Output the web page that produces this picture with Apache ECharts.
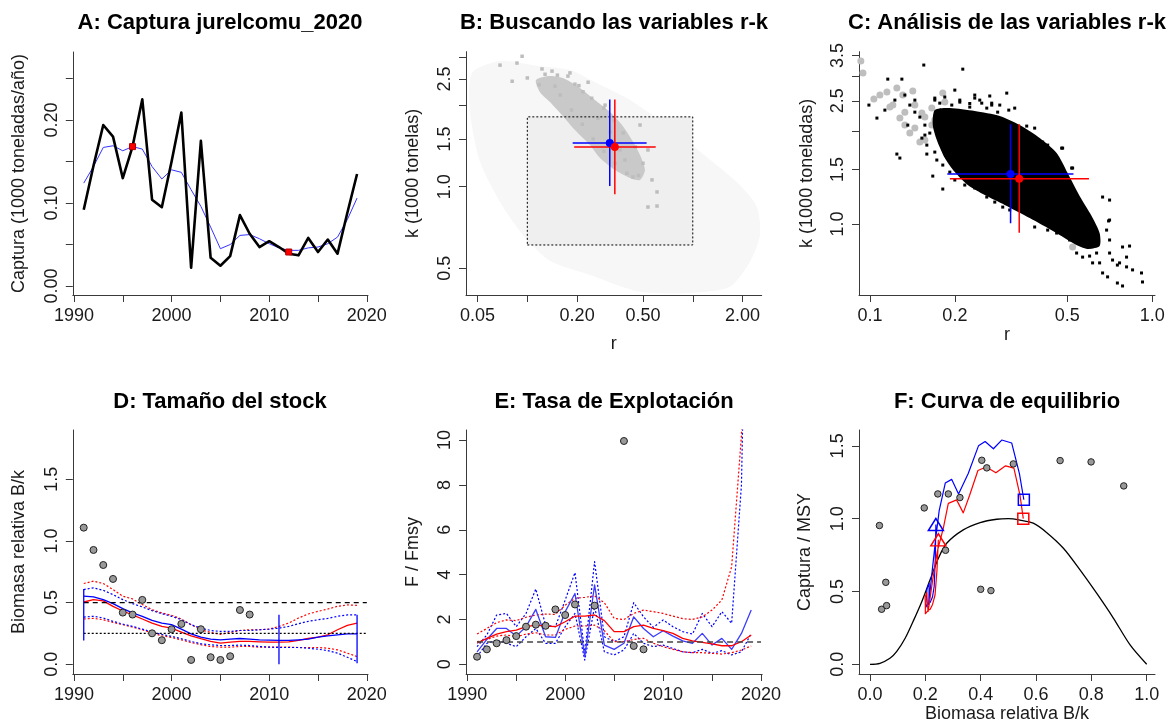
<!DOCTYPE html>
<html><head><meta charset="utf-8">
<script src="https://cdn.jsdelivr.net/npm/echarts@6/dist/echarts.min.js"></script>
<style>html,body{margin:0;padding:0;background:#fff}#c{width:1172px;height:724px}</style>
</head><body><div id="c"></div>
<script>
// ---------- DATA ----------
const years = [1991,1992,1993,1994,1995,1996,1997,1998,1999,2000,2001,2002,2003,2004,2005,2006,2007,2008,2009,2010,2011,2012,2013,2014,2015,2016,2017,2018,2019];
// A: catch and smoothed catch
const catchA = [0.092,0.145,0.194,0.180,0.130,0.168,0.225,0.104,0.095,0.150,0.209,0.022,0.175,0.034,0.0245,0.036,0.0855,0.063,0.047,0.054,0.047,0.039,0.037,0.058,0.041,0.056,0.039,0.088,0.135];
const smoothA = [0.124,0.144,0.167,0.169,0.163,0.168,0.165,0.144,0.129,0.140,0.137,0.116,0.096,0.071,0.045,0.050,0.061,0.062,0.057,0.051,0.046,0.043,0.043,0.046,0.047,0.051,0.059,0.080,0.106];
const markYearsA = [1996,2012];
const markValsA = [0.168,0.041];
// B: r-k clouds
const bCloudR = [0.0464,0.0684,0.1082,0.181,0.239,0.417,0.759,1.218,1.928,2.442,2.547,2.216,1.678,0.962,0.480,0.239,0.137,0.0941,0.0684,0.0518,0.0451];
const bCloudK = [2.63,2.91,2.81,2.70,2.48,2.09,1.62,1.285,1.015,0.841,0.663,0.528,0.427,0.405,0.409,0.472,0.532,0.663,0.878,1.233,1.88];
const priorR = [0.1,1.0];
const priorK = [0.609,1.81];
const bBandR = [0.1128,0.1372,0.169,0.2082,0.2565,0.316,0.3734,0.429,0.480,0.514,0.480,0.417,0.339,0.275,0.239,0.194,0.162,0.137,0.119];
const bBandK = [2.476,2.56,2.50,2.314,2.089,1.887,1.689,1.487,1.309,1.152,1.059,1.077,1.152,1.276,1.425,1.619,1.839,2.054,2.237];
const bDarkR = [0.0684,0.0866,0.093,0.081,0.1227,0.141,0.181,0.233,0.1,0.128,0.217,0.295,0.480,0.536,0.567,0.608,0.536,0.608,0.435,0.389,0.363,0.316,0.2675,0.158,0.194,0.147,0.118,0.152,0.176,0.205,0.245,0.29,0.335,0.38,0.45,0.50,0.47,0.40,0.34,0.29,0.25,0.215,0.185];
const bDarkK = [2.81,2.86,3.03,2.45,2.72,2.67,2.63,2.43,2.52,2.60,2.24,2.0,1.689,1.366,1.059,0.956,0.841,0.848,1.086,1.254,1.366,1.59,1.79,2.18,2.39,2.35,2.38,2.58,2.56,2.36,2.12,1.95,1.76,1.58,1.40,1.22,1.10,1.12,1.22,1.35,1.50,1.70,1.92];
// r-k estimates: [low, median, high]
const blueR = [0.188,0.315,0.526];
const blueK = [1.005,1.45,2.10];
const redR = [0.192,0.338,0.597];
const redK = [0.938,1.40,2.10];
// C: viable r-k pairs
const cCoreR = [0.1698,0.1919,0.2352,0.2884,0.3394,0.3994,0.4587,0.5016,0.5532,0.61,0.6511,0.6511,0.5904,0.531,0.4513,0.3681,0.3004,0.2552,0.2222,0.1999,0.1842,0.1726,0.167];
const cCoreK = [2.332,2.367,2.315,2.231,2.086,1.894,1.694,1.460,1.231,1.061,0.935,0.849,0.831,0.862,0.942,1.045,1.152,1.240,1.336,1.471,1.633,1.866,2.086];
const cGreyR = [0.0929,0.0945,0.1033,0.1149,0.1246,0.1419,0.1812,0.1177,0.1277,0.1385,0.1503,0.133,0.1528,0.1657,0.1842,0.1999,0.1657,0.1797,0.1999,0.3394,0.5099,0.5225,0.3053,0.1085,0.1206,0.1308,0.1443,0.1566,0.1698,0.1885,0.2082,0.133,0.1443,0.1566];
const cGreyK = [3.357,3.07,2.531,2.666,2.747,2.686,2.646,2.385,2.198,1.966,1.839,2.297,2.281,2.367,2.475,2.297,2.086,1.981,2.04,1.937,1.287,0.843,1.177,2.608,2.421,2.608,2.421,2.214,2.165,2.198,2.165,2.086,2.04,1.866];
const cBlackR = [0.1552,0.2133,0.1157,0.1298,0.0992,0.1059,0.1246,0.1277,0.1591,0.167,0.1812,0.1999,0.2352,0.2701,0.3053,0.3104,0.3258,0.3593,0.3834,0.4816,0.5225,0.6672,0.7063,0.7005,0.8313,0.8519,0.9165,0.924,0.7851,0.7527,0.6949,0.6672,0.6001,0.6511,0.7662,0.8112,0.7237,0.6353,0.7063,0.6893,0.7063,0.7851,0.8112,0.7063,0.7527,0.6149,0.5668,0.5398,0.4777,0.5183,0.4263,0.4092,0.3772,0.3834,0.4263,0.4587,0.5099,0.6001,0.3128,0.2955,0.2769,0.2204,0.2594,0.245,0.2658,0.2884,0.2258,0.2082,0.1842,0.113,0.1226,0.133,0.1443,0.1362,0.1566,0.1698,0.1698,0.1768,0.195,0.2082,0.2258,0.249,0.2594,0.2835,0.2352,0.2701,0.1385,0.1443,0.1503,0.1566,0.163,0.1528,0.1591,0.1698,0.1726,0.1812,0.1919,0.1999,0.2168,0.2352];
const cBlackK = [3.26,3.162,2.936,2.936,2.421,2.198,1.682,1.633,1.682,1.428,1.297,2.706,2.55,2.421,2.646,2.332,2.367,2.071,2.04,1.758,1.516,1.222,1.195,1.023,0.849,0.711,0.695,0.650,0.631,0.645,0.675,0.695,0.788,0.749,0.749,0.727,0.765,0.806,1.030,0.956,0.888,0.843,0.782,0.806,0.737,0.749,0.782,0.806,1.758,1.516,1.798,1.839,1.839,0.978,0.956,0.935,0.888,0.843,1.110,1.134,1.177,1.418,1.222,2.512,2.59,2.421,2.45,2.512,2.57,2.332,2.512,2.608,2.512,2.086,1.937,2.512,2.55,2.456,2.421,2.475,2.385,2.456,2.367,2.297,2.608,2.456,2.421,2.297,2.214,2.086,1.966,1.894,1.798,1.707,1.609,1.550,1.471,1.387,1.336,1.307];
// D: relative biomass
const dRed = [0.505,0.524,0.514,0.47,0.432,0.40,0.367,0.334,0.307,0.293,0.261,0.231,0.207,0.185,0.171,0.179,0.185,0.185,0.182,0.179,0.179,0.182,0.193,0.209,0.22,0.239,0.28,0.315,0.334];
const dBlue = [0.552,0.546,0.524,0.492,0.451,0.416,0.389,0.356,0.334,0.321,0.285,0.247,0.22,0.204,0.198,0.204,0.209,0.204,0.198,0.196,0.193,0.193,0.198,0.204,0.22,0.231,0.239,0.247,0.247];
const dRedHi = [0.655,0.674,0.655,0.606,0.552,0.53,0.484,0.443,0.416,0.397,0.367,0.321,0.28,0.258,0.242,0.258,0.274,0.28,0.28,0.285,0.307,0.334,0.375,0.408,0.429,0.448,0.47,0.481,0.478];
const dRedLo = [0.367,0.372,0.361,0.34,0.321,0.302,0.28,0.253,0.231,0.217,0.198,0.177,0.158,0.144,0.139,0.139,0.144,0.144,0.139,0.139,0.139,0.139,0.136,0.136,0.136,0.13,0.117,0.09,0.0625];
const dBlueHi = [0.606,0.62,0.60,0.565,0.524,0.492,0.465,0.435,0.41,0.389,0.361,0.321,0.293,0.274,0.266,0.266,0.274,0.274,0.28,0.285,0.293,0.307,0.329,0.348,0.361,0.372,0.389,0.40,0.40];
const dBlueLo = [0.383,0.389,0.375,0.348,0.326,0.307,0.285,0.261,0.242,0.226,0.207,0.185,0.166,0.158,0.152,0.152,0.155,0.152,0.144,0.139,0.136,0.136,0.136,0.13,0.122,0.111,0.09,0.057,0.022];
const dPtYears = [1991,1992,1993,1994,1995,1996,1997,1998,1999,2000,2001,2002,2003,2004,2005,2006,2007,2008];
const dPtVals = [1.108,0.927,0.805,0.692,0.419,0.403,0.522,0.251,0.195,0.284,0.327,0.035,0.284,0.057,0.035,0.065,0.44,0.403];
const dBarYears = [1991,2011,2019];
const dBarLo = [0.193,0.0,0.008];
const dBarHi = [0.611,0.402,0.402];
// E: F/Fmsy
const eRed = [0.94,1.16,1.35,1.46,1.53,1.68,1.75,1.71,1.68,1.9,2.15,2.15,2.2,1.95,1.46,1.46,1.68,1.75,1.6,1.5,1.38,1.16,1.05,0.98,0.91,0.83,0.83,1.01,1.31];
const eBlue = [0.56,1.11,1.6,1.6,1.26,1.68,2.45,1.23,1.2,2.35,3.16,0.34,3.54,0.86,0.67,0.94,2.12,1.6,1.23,1.5,1.26,1.05,0.94,1.38,0.86,1.16,0.67,1.38,2.42];
const eRedHi = [1.35,1.6,1.86,1.98,1.95,2.1,2.2,2.24,2.23,2.64,2.94,2.99,3.05,2.75,2.05,2.0,2.27,2.42,2.35,2.27,2.15,2.04,2.0,2.12,2.42,2.87,4.35,10.2,30];
const eRedLo = [1.01,1.11,1.26,1.31,1.23,1.35,1.41,1.31,1.31,1.56,1.71,1.71,1.75,1.5,1.01,1.01,1.11,1.16,0.94,0.79,0.67,0.56,0.52,0.52,0.49,0.46,0.52,0.64,0.82];
const eBlueHi = [0.79,1.31,2.2,2.27,1.68,2.27,3.36,1.75,1.68,2.87,4.09,0.5,4.58,1.23,1.01,1.23,2.75,2.12,1.65,1.98,1.68,1.46,1.35,2.27,1.68,2.35,1.83,8.0,30];
const eBlueLo = [0.34,0.94,1.08,0.94,0.79,1.23,1.6,0.94,0.94,1.68,2.27,0.19,2.57,0.56,0.42,0.64,1.38,0.94,0.79,0.86,0.71,0.56,0.52,0.67,0.49,0.61,0.42,0.56,1.38];
const ePtYears = [1991,1992,1993,1994,1995,1996,1997,1998,1999,2000,2001,2003,2006,2007,2008];
const ePtVals = [0.34,0.67,0.94,1.08,1.26,1.68,1.77,1.72,2.45,2.2,2.67,2.62,9.96,0.82,0.67];
// F: equilibrium curve
const fCurveX = [0,0.036,0.072,0.096,0.127,0.157,0.187,0.217,0.247,0.277,0.337,0.398,0.458,0.5,0.542,0.59,0.639,0.699,0.759,0.819,0.88,0.94,1.0];
const fCurveY = [0,0.007,0.041,0.087,0.179,0.30,0.43,0.58,0.728,0.831,0.923,0.973,0.996,1.0,0.99,0.969,0.904,0.797,0.648,0.488,0.316,0.133,0.0];
const fBlueX = [0.556,0.54,0.512,0.476,0.446,0.416,0.392,0.355,0.32,0.295,0.272,0.25,0.238,0.225,0.212,0.213,0.214,0.21,0.206,0.204,0.202,0.201,0.203,0.21,0.218,0.226,0.232,0.236,0.238];
const fBlueY = [1.13,1.31,1.52,1.54,1.48,1.53,1.50,1.31,1.17,1.27,1.245,1.055,0.873,0.645,0.41,0.455,0.555,0.564,0.518,0.464,0.418,0.391,0.391,0.418,0.427,0.464,0.536,0.727,0.96];
const fRedX = [0.554,0.542,0.52,0.49,0.455,0.42,0.39,0.36,0.337,0.313,0.283,0.265,0.243,0.226,0.21,0.208,0.205,0.2,0.199,0.2,0.2,0.2,0.204,0.21,0.218,0.226,0.235,0.242,0.247];
const fRedY = [1.0,1.161,1.347,1.363,1.315,1.355,1.331,1.161,1.04,1.129,1.105,0.935,0.774,0.573,0.363,0.403,0.492,0.5,0.46,0.411,0.371,0.347,0.347,0.371,0.379,0.411,0.476,0.645,0.855];
const fPtX = [0.034,0.042,0.060,0.057,0.196,0.245,0.283,0.325,0.273,0.404,0.422,0.400,0.437,0.518,0.687,0.799,0.917];
const fPtY = [0.953,0.378,0.403,0.563,1.074,1.170,1.170,1.145,0.783,1.401,1.349,0.515,0.506,1.376,1.399,1.39,1.225];
// tick values
const yearTicks = [1990,1995,2000,2005,2010,2015,2020];
const yearLabels = [1990,2000,2010,2020];

// ---------- HELPERS ----------
const FONT = '"Liberation Sans", Arial, Helvetica, sans-serif';
const TXT = '#1a1a1a';
const AX = '#3a3a3a';
const zip = (a, b) => a.map((v, i) => [v, b[i]]);

function axis(dim, gi, o) {
  const isY = dim === 'y';
  return {
    gridIndex: gi, type: o.log ? 'log' : 'value', logBase: 10,
    min: o.min, max: o.max, position: isY ? 'left' : 'bottom',
    name: o.name || '', nameLocation: 'middle', nameGap: o.gap || 0,
    nameTextStyle: { color: TXT, fontSize: 18, fontFamily: FONT },
    axisLine: { show: true, onZero: false, lineStyle: { color: AX, width: 1 } },
    axisTick: { show: true, length: 7, inside: false, lineStyle: { color: AX, width: 1 }, customValues: o.ticks },
    axisLabel: { show: true, color: TXT, fontSize: 18, fontFamily: FONT, margin: 12, rotate: isY ? 90 : 0,
      customValues: o.labels, formatter: o.fmt, showMinLabel: true, showMaxLabel: true },
    splitLine: { show: false }, splitArea: { show: false }, minorTick: { show: false }
  };
}
const fx = d => (v => Number(v).toFixed(d));

function line(xi, data, color, width, type, z) {
  return { type: 'line', xAxisIndex: xi, yAxisIndex: xi, data: data, symbol: 'none', silent: true,
    lineStyle: { color: color, width: width, type: type || 'solid', join: 'round' }, z: z || 3, clip: true, animation: false };
}
function poly(xi, r, k, fill, z) {
  const pts = zip(r, k);
  return { type: 'custom', xAxisIndex: xi, yAxisIndex: xi, data: pts, silent: true, z: z || 1, clip: true,
    renderItem: function (params, api) {
      if (params.dataIndex !== 0) return null;
      return { type: 'polygon', shape: { points: pts.map(p => api.coord(p)), smooth: 0.25 }, style: { fill: fill } };
    } };
}
function rectPoly(xi, r, k, fill, z) {
  const pts = [[r[0], k[0]], [r[1], k[0]], [r[1], k[1]], [r[0], k[1]]];
  return { type: 'custom', xAxisIndex: xi, yAxisIndex: xi, data: pts, silent: true, z: z || 1, clip: true,
    renderItem: function (params, api) {
      if (params.dataIndex !== 0) return null;
      return { type: 'polygon', shape: { points: pts.map(p => api.coord(p)) }, style: { fill: fill } };
    } };
}
function scatter(xi, data, symbol, size, color, border, z) {
  return { type: 'scatter', xAxisIndex: xi, yAxisIndex: xi, data: data, symbol: symbol, symbolSize: size, silent: true,
    itemStyle: { color: color, borderColor: border ? border[0] : undefined, borderWidth: border ? border[1] : 0, opacity: 1 }, z: z || 5, clip: true };
}
function crosses(xi) {
  return [
    line(xi, [[blueR[0], blueK[1]], [blueR[2], blueK[1]]], '#0000ff', 1.5, 'solid', 6),
    line(xi, [[blueR[1], blueK[0]], [blueR[1], blueK[2]]], '#0000ff', 1.5, 'solid', 6),
    line(xi, [[redR[0], redK[1]], [redR[2], redK[1]]], '#ff0000', 1.5, 'solid', 7),
    line(xi, [[redR[1], redK[0]], [redR[1], redK[2]]], '#ff0000', 1.5, 'solid', 7),
    scatter(xi, [[blueR[1], blueK[1]]], 'circle', 8, '#0000ff', null, 8),
    scatter(xi, [[redR[1], redK[1]]], 'circle', 8, '#ff0000', null, 9)
  ];
}

const grids = [
  { left: 72.8, top: 52, width: 295.2, height: 243 },
  { left: 466, top: 51.7, width: 295.7, height: 243.3 },
  { left: 859, top: 51.7, width: 296, height: 243.3 },
  { left: 72.8, top: 430, width: 295.2, height: 244 },
  { left: 466.1, top: 430, width: 296.1, height: 244 },
  { left: 859, top: 430, width: 296, height: 244 }
].map(g => Object.assign({ containLabel: false, outerBoundsMode: 'none', show: false }, g));

const xAxes = [
  axis('x', 0, { min: 1989.88, max: 2020.12, ticks: yearTicks, labels: yearLabels, fmt: fx(0) }),
  axis('x', 1, { log: true, min: 0.0426, max: 2.61, ticks: [0.05, 0.1, 0.2, 0.5, 1, 2], labels: [0.05, 0.2, 0.5, 2], fmt: fx(2), name: 'r', gap: 40 }),
  axis('x', 2, { log: true, min: 0.0915, max: 1.023, ticks: [0.1, 0.2, 0.5, 1], labels: [0.1, 0.2, 0.5, 1], fmt: fx(1), name: 'r', gap: 30 }),
  axis('x', 3, { min: 1989.88, max: 2020.12, ticks: yearTicks, labels: yearLabels, fmt: fx(0) }),
  axis('x', 4, { min: 1989.88, max: 2020.12, ticks: yearTicks, labels: yearLabels, fmt: fx(0) }),
  axis('x', 5, { min: -0.0398, max: 1.03, ticks: [0, 0.2, 0.4, 0.6, 0.8, 1.0], labels: [0, 0.2, 0.4, 0.6, 0.8, 1.0], fmt: fx(1), name: 'Biomasa relativa B/k', gap: 29 })
];
const yAxes = [
  axis('y', 0, { min: -0.0108, max: 0.282, ticks: [0, 0.05, 0.1, 0.15, 0.2, 0.25], labels: [0, 0.1, 0.2], fmt: fx(2), name: 'Captura (1000 toneladas/año)', gap: 45 }),
  axis('y', 1, { log: true, min: 0.398, max: 3.15, ticks: [0.5, 1, 1.5, 2, 2.5, 3], labels: [0.5, 1, 1.5, 2.5], fmt: fx(1), name: 'k (1000 tonelas)', gap: 44 }),
  axis('y', 2, { log: true, min: 0.59, max: 3.6, ticks: [1, 1.5, 2, 2.5, 3, 3.5], labels: [1, 1.5, 2.5, 3.5], fmt: fx(1), name: 'k (1000 toneladas)', gap: 43 }),
  axis('y', 3, { min: -0.079, max: 1.90, ticks: [0, 0.5, 1, 1.5], labels: [0, 0.5, 1, 1.5], fmt: fx(1), name: 'Biomasa relativa B/k', gap: 45 }),
  axis('y', 4, { min: -0.43, max: 10.45, ticks: [0, 2, 4, 6, 8, 10], labels: [0, 2, 4, 6, 8, 10], fmt: fx(0), name: 'F / Fmsy', gap: 44 }),
  axis('y', 5, { min: -0.0666, max: 1.609, ticks: [0, 0.5, 1, 1.5], labels: [0, 0.5, 1, 1.5], fmt: fx(1), name: 'Captura / MSY', gap: 45 })
];

const series = [];
// A
series.push(line(0, zip(years, smoothA), '#3535ff', 1, 'solid', 3));
series.push(line(0, zip(years, catchA), '#000000', 2.6, 'solid', 4));
series.push(scatter(0, zip(markYearsA, markValsA), 'rect', 6, '#ff0000', ['#b00000', 1], 6));
// B
series.push(poly(1, bCloudR, bCloudK, '#f7f7f7', 1));
series.push(rectPoly(1, priorR, priorK, '#efefef', 2));
series.push(poly(1, bBandR, bBandK, '#c9c9c9', 3));
series.push(scatter(1, zip(bDarkR, bDarkK), 'rect', 3.5, '#bdbdbd', null, 4));
series.push(line(1, [[priorR[0], priorK[0]], [priorR[1], priorK[0]], [priorR[1], priorK[1]], [priorR[0], priorK[1]], [priorR[0], priorK[0]]], '#000', 1, [2, 2], 5));
crosses(1).forEach(s => series.push(s));
// C
series.push(scatter(2, zip(cGreyR, cGreyK), 'circle', 7, '#bebebe', null, 2));
series.push(poly(2, cCoreR, cCoreK, '#000000', 3));
series.push(scatter(2, zip(cBlackR, cBlackK), 'rect', 3, '#000000', null, 4));
crosses(2).forEach(s => series.push(s));
// D
series.push(line(3, zip(years, dRedHi), '#ff0000', 1.2, [2, 2], 3));
series.push(line(3, zip(years, dRedLo), '#ff0000', 1.2, [2, 2], 3));
series.push(line(3, zip(years, dBlueHi), '#0000ff', 1.2, [2, 2], 3));
series.push(line(3, zip(years, dBlueLo), '#0000ff', 1.2, [2, 2], 3));
series.push(line(3, zip(years, dRed), '#ff0000', 1.3, 'solid', 4));
series.push(line(3, zip(years, dBlue), '#0000ff', 1.3, 'solid', 4));
series.push(line(3, [[1991, 0.5], [2020, 0.5]], '#000', 1.2, [5, 4], 4));
series.push(line(3, [[1991, 0.25], [2020, 0.25]], '#000', 1.2, [2, 2], 4));
series.push({ type: 'custom', xAxisIndex: 3, yAxisIndex: 3, silent: true, z: 5,
  data: dBarYears.map((y, i) => [y, dBarLo[i], dBarHi[i]]),
  renderItem: function (params, api) {
    const a = api.coord([api.value(0), api.value(1)]);
    const b = api.coord([api.value(0), api.value(2)]);
    return { type: 'line', shape: { x1: a[0], y1: a[1], x2: b[0], y2: b[1] }, style: { stroke: '#0000ff', lineWidth: 1.3 } };
  } });
series.push(scatter(3, zip(dPtYears, dPtVals), 'circle', 7, '#999999', ['#222', 1], 6));
// E
series.push(line(4, zip(years, eBlueHi), '#0000ff', 1.2, [2, 2], 3));
series.push(line(4, zip(years, eBlueLo), '#0000ff', 1.2, [2, 2], 3));
series.push(line(4, zip(years, eRedHi), '#ff0000', 1.2, [2, 2], 3));
series.push(line(4, zip(years, eRedLo), '#ff0000', 1.2, [2, 2], 3));
series.push(line(4, zip(years, eBlue), '#3c3cff', 1.3, 'solid', 4));
series.push(line(4, zip(years, eRed), '#ff0000', 1.3, 'solid', 4));
series.push(line(4, [[1991, 1], [2020, 1]], '#444', 1.6, [6, 4], 5));
series.push(scatter(4, zip(ePtYears, ePtVals), 'circle', 7, '#999999', ['#222', 1], 6));
// F
series.push(Object.assign(line(5, zip(fCurveX, fCurveY), '#000', 1.3, 'solid', 3), { smooth: 0.3 }));
series.push(line(5, zip(fBlueX, fBlueY), '#0000ff', 1.2, 'solid', 4));
series.push(line(5, zip(fRedX, fRedY), '#ff0000', 1.2, 'solid', 4));
series.push(scatter(5, zip(fPtX, fPtY), 'circle', 6.5, '#999999', ['#222', 1], 6));
const nB = fBlueX.length - 1, nR = fRedX.length - 1;
series.push(scatter(5, [[fBlueX[0], fBlueY[0]]], 'rect', 11, 'rgba(255,255,255,0)', ['#0000ff', 1.5], 7));
series.push(scatter(5, [[fRedX[0], fRedY[0]]], 'rect', 11, 'rgba(255,255,255,0)', ['#ff0000', 1.5], 7));
series.push(scatter(5, [[fBlueX[nB], fBlueY[nB]]], 'triangle', [15, 12], 'rgba(255,255,255,0)', ['#0000ff', 1.5], 7));
series.push(scatter(5, [[fRedX[nR], fRedY[nR]]], 'triangle', [15, 12], 'rgba(255,255,255,0)', ['#ff0000', 1.5], 7));

const titles = [
  ['A: Captura jurelcomu_2020', 220, 23], ['B: Buscando las variables r-k', 614, 23], ['C: Análisis de las variables r-k', 1007, 23],
  ['D: Tamaño del stock', 220, 402], ['E: Tasa de Explotación', 614, 402], ['F: Curva de equilibrio', 1007, 402]
];
const graphic = titles.map(t => ({ type: 'text', x: t[1], y: t[2], silent: true,
  style: { text: t[0], fontSize: 22, fontWeight: 'bold', fontFamily: FONT, fill: '#000', align: 'center', verticalAlign: 'middle' } }));

const chart = echarts.init(document.getElementById('c'), null, { renderer: 'canvas' });
chart.setOption({
  animation: false, backgroundColor: '#ffffff',
  grid: grids, xAxis: xAxes, yAxis: yAxes, series: series, graphic: graphic,
  tooltip: { show: false }, legend: { show: false }
});
</script></body></html>
